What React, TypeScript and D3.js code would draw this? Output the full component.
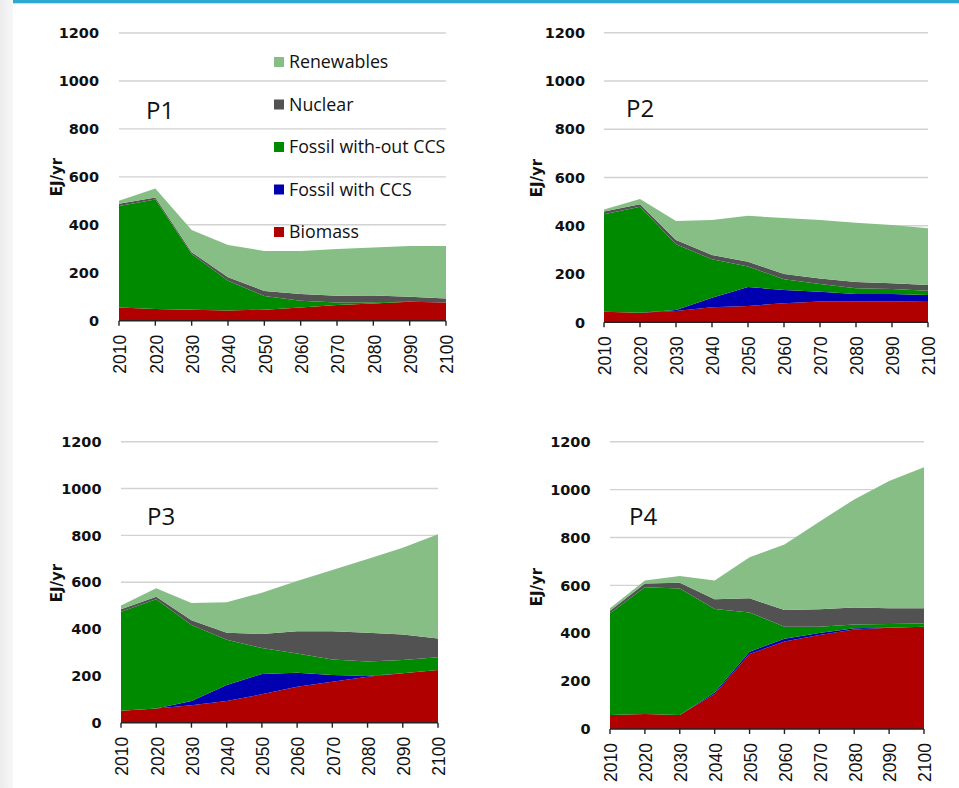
import React from "react";
import * as d3 from "d3";

const years = [2010, 2020, 2030, 2040, 2050, 2060, 2070, 2080, 2090, 2100];
const yTicks = [0, 200, 400, 600, 800, 1000, 1200];
const seriesNames = ["Renewables", "Nuclear", "Fossil with-out CCS", "Fossil with CCS", "Biomass"];

// P1
const p1Biomass = [55, 49, 46, 43, 46, 55, 65, 72, 79, 76];
const p1CCS = [0, 0, 0, 0, 0, 0, 0, 0, 0, 0];
const p1Fossil = [423, 457, 232, 124, 57, 28, 11, 5, 0, 0];
const p1Nuclear = [10, 8, 8, 14, 21, 28, 28, 28, 21, 17];
const p1Renewables = [12, 37, 92, 135, 167, 180, 195, 200, 212, 219];

// P2
const p2Biomass = [44, 40, 47, 62, 68, 79, 86, 86, 86, 88];
const p2CCS = [0, 0, 4, 40, 78, 55, 41, 31, 31, 25];
const p2Fossil = [404, 439, 272, 159, 85, 44, 32, 24, 21, 18];
const p2Nuclear = [11, 10, 18, 18, 20, 22, 23, 26, 24, 24];
const p2Renewables = [8, 22, 79, 145, 190, 232, 242, 246, 241, 235];

// P3
const p3Biomass = [51, 61, 75, 93, 121, 154, 175, 196, 211, 225];
const p3CCS = [0, 0, 18, 68, 87, 59, 29, 3, 0, 0];
const p3Fossil = [423, 466, 324, 193, 111, 83, 66, 62, 57, 54];
const p3Nuclear = [10, 11, 21, 30, 60, 95, 121, 123, 109, 81];
const p3Renewables = [16, 36, 73, 130, 176, 214, 261, 315, 370, 445];

// P4
const p4Biomass = [58, 63, 58, 146, 313, 365, 393, 416, 423, 427];
const p4CCS = [0, 0, 0, 6, 10, 12, 8, 5, 0, 0];
const p4Fossil = [425, 529, 529, 349, 164, 50, 26, 16, 16, 14];
const p4Nuclear = [11, 16, 24, 41, 59, 70, 73, 71, 65, 63];
const p4Renewables = [10, 12, 28, 78, 171, 274, 366, 451, 532, 589];

const colors: Record<string, string> = {
  Renewables: "#86BE86",
  Nuclear: "#525252",
  "Fossil with-out CCS": "#008A00",
  "Fossil with CCS": "#0000B0",
  Biomass: "#B00000",
};

const stackKeys = ["Biomass", "Fossil with CCS", "Fossil with-out CCS", "Nuclear", "Renewables"];

const panels = [
  { name: "P1", data: [p1Biomass, p1CCS, p1Fossil, p1Nuclear, p1Renewables],
    x0: 119, x1: 446, yTop: 33, yBot: 320.7, tickRight: 99, ejX: 57, ejY: 177, lx: 146, ly: 119 },
  { name: "P2", data: [p2Biomass, p2CCS, p2Fossil, p2Nuclear, p2Renewables],
    x0: 604, x1: 928, yTop: 32.7, yBot: 322.3, tickRight: 585, ejX: 537, ejY: 178, lx: 626, ly: 117 },
  { name: "P3", data: [p3Biomass, p3CCS, p3Fossil, p3Nuclear, p3Renewables],
    x0: 121, x1: 438, yTop: 441.7, yBot: 722.7, tickRight: 101.5, ejX: 57, ejY: 583, lx: 147, ly: 525 },
  { name: "P4", data: [p4Biomass, p4CCS, p4Fossil, p4Nuclear, p4Renewables],
    x0: 610, x1: 924, yTop: 441.7, yBot: 729, tickRight: 590.5, ejX: 537, ejY: 587, lx: 629, ly: 525 },
];

function Panel({ p }: { p: (typeof panels)[number] }) {
  const x = d3.scaleLinear().domain([2010, 2100]).range([p.x0, p.x1]);
  const y = d3.scaleLinear().domain([0, 1200]).range([p.yBot, p.yTop]);
  const rows = years.map((yr, i) => {
    const r: any = { year: yr };
    stackKeys.forEach((k, j) => (r[k] = p.data[j][i]));
    return r;
  });
  const stacked = d3.stack<any>().keys(stackKeys)(rows);
  const area = d3
    .area<any>()
    .x((d) => x(d.data.year))
    .y0((d) => y(d[0]))
    .y1((d) => y(d[1]));
  return (
    <g>
      {yTicks.map((t) => (
        <g key={t}>
          {t > 0 && (
            <line x1={p.x0} x2={p.x1} y1={y(t)} y2={y(t)} stroke="#d2d2d2" strokeWidth={1.4} />
          )}
          <text
            x={p.tickRight}
            y={y(t)}
            dy="0.36em"
            textAnchor="end"
            fontFamily="DejaVu Sans"
            fontWeight="bold"
            fontSize={14.5}
            fill="#111"
          >
            {t}
          </text>
        </g>
      ))}
      {stacked.map((s) => (
        <path key={s.key} d={area(s) || ""} fill={colors[s.key]} />
      ))}
      <line x1={p.x0} x2={p.x1} y1={p.yBot} y2={p.yBot} stroke="#222" strokeWidth={1.4} />
      {years.map((yr) => (
        <g key={yr}>
          <line x1={x(yr)} x2={x(yr)} y1={p.yBot} y2={p.yBot + 5} stroke="#222" strokeWidth={1.4} />
          <text
            transform={`translate(${x(yr) + 1},${p.yBot + 14}) rotate(-90)`}
            dy="0.36em"
            textAnchor="end"
            fontFamily="Liberation Sans"
            fontSize={17.5}
            fill="#111"
          >
            {yr}
          </text>
        </g>
      ))}
      <text
        transform={`translate(${p.ejX},${p.ejY}) rotate(-90)`}
        dy="0.36em"
        textAnchor="middle"
        fontFamily="DejaVu Sans"
        fontWeight="bold"
        fontSize={15}
        fill="#111"
      >
        EJ/yr
      </text>
      <text x={p.lx} y={p.ly} fontFamily="Open Sans" fontSize={24} fill="#111">
        {p.name}
      </text>
    </g>
  );
}

export default function App() {
  const legendY = d3.scalePoint<string>().domain(seriesNames).range([62, 232]);
  return (
    <svg
      width={959}
      height={788}
      style={{ position: "absolute", left: 0, top: 0, background: "#fff" }}
    >
      <defs>
        <linearGradient id="leftShade" x1="0" x2="1" y1="0" y2="0">
          <stop offset="0" stopColor="#ececec" />
          <stop offset="1" stopColor="#f7f7f7" />
        </linearGradient>
      </defs>
      <rect x={0} y={0} width={13} height={788} fill="url(#leftShade)" />
      <rect x={13} y={0} width={946} height={3.3} fill="#2BA9D1" />
      {panels.map((p) => (
        <Panel key={p.name} p={p} />
      ))}
      {seriesNames.map((n) => (
        <g key={n}>
          <rect x={274} y={(legendY(n) || 0) - 5} width={10} height={10} fill={colors[n]} />
          <text
            x={289}
            y={legendY(n)}
            dy="0.35em"
            fontFamily="Open Sans"
            fontSize={17.8}
            fill="#111"
          >
            {n}
          </text>
        </g>
      ))}
    </svg>
  );
}
